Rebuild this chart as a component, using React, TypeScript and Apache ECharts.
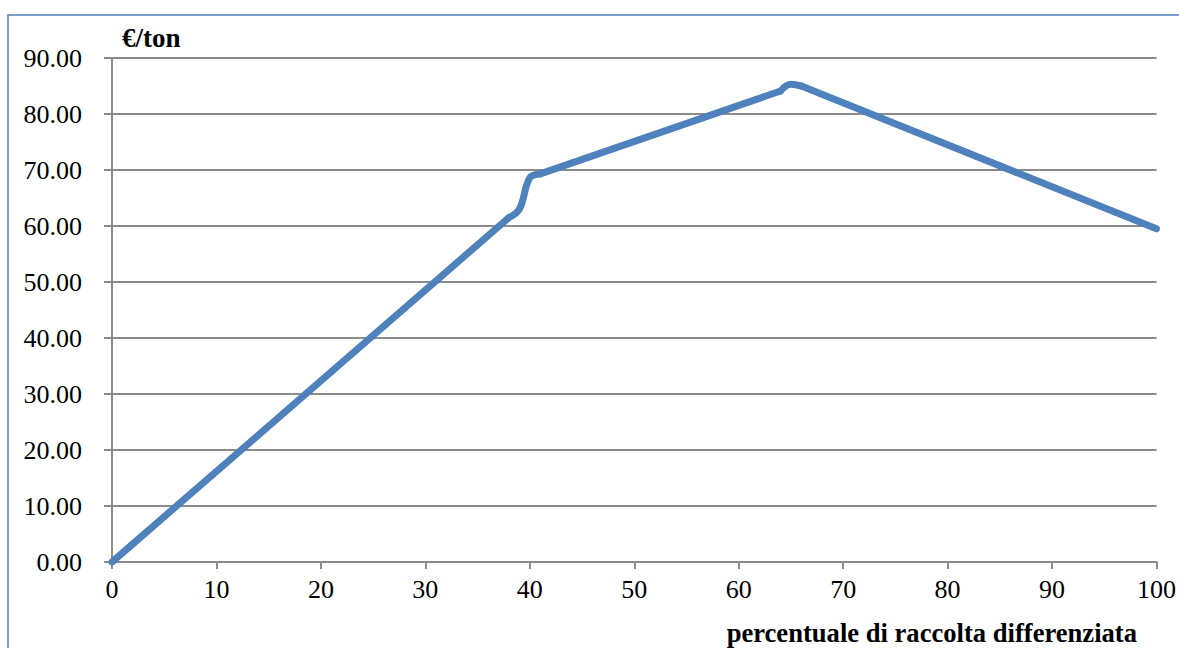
import React, { useEffect, useRef } from "react";
import * as echarts from "echarts";

const percentX = [0, 38, 39, 40, 41, 64, 65, 66, 100];
const costY = [0, 61.5, 63.0, 68.6, 69.3, 84.1, 85.3, 85.0, 59.5];
const yTitle = "€/ton";
const xTitle = "percentuale di raccolta differenziata";

// index ranges of the series drawn straight or smoothed
const segments: [number, number, boolean][] = [
  [0, 1, false],
  [1, 4, true],
  [4, 5, false],
  [5, 7, true],
  [7, 8, false],
];

const FONT = "Times New Roman";

export default function App() {
  const ref = useRef<HTMLDivElement>(null);
  useEffect(() => {
    if (!ref.current) return;
    const chart = echarts.init(ref.current, null, { renderer: "svg" });
    const pts = percentX.map((x, i) => [x, costY[i]]);
    chart.setOption({
      animation: false,
      backgroundColor: "#ffffff",
      textStyle: { fontFamily: FONT },
      grid: { left: 112, right: 22, top: 58, bottom: 86 },
      graphic: [
        {
          type: "rect",
          shape: { x: 8, y: 15, width: 1300, height: 800 },
          style: { fill: "none", stroke: "#4F81BD", lineWidth: 1.5 },
          silent: true,
        },
        {
          type: "text",
          left: 122,
          top: 24,
          style: { text: yTitle, fontFamily: FONT, fontWeight: "bold", fontSize: 27, fill: "#000" },
        },
        {
          type: "text",
          right: 42,
          top: 619,
          style: { text: xTitle, fontFamily: FONT, fontWeight: "bold", fontSize: 26.6, fill: "#000" },
        },
      ],
      xAxis: {
        type: "value",
        min: 0,
        max: 100,
        interval: 10,
        axisLine: { show: true, lineStyle: { color: "#8c8c8c", width: 2 } },
        axisTick: { show: true, length: 7, lineStyle: { color: "#8c8c8c", width: 2 } },
        splitLine: { show: false },
        axisLabel: { fontFamily: FONT, fontSize: 26, color: "#000", margin: 14 },
      },
      yAxis: {
        type: "value",
        min: 0,
        max: 90,
        interval: 10,
        axisLine: { show: true, lineStyle: { color: "#8c8c8c", width: 2 } },
        axisTick: { show: true, length: 8, lineStyle: { color: "#8c8c8c", width: 2 } },
        splitLine: { show: true, lineStyle: { color: "#8c8c8c", width: 2 } },
        axisLabel: {
          fontFamily: FONT,
          fontSize: 26,
          color: "#000",
          margin: 30,
          formatter: (v: number) => v.toFixed(2),
        },
      },
      series: segments.map(([a, b, sm]) => ({
        type: "line",
        data: pts.slice(a, b + 1),
        showSymbol: false,
        smooth: sm ? 0.4 : false,
        lineStyle: { color: "#4F81BD", width: 7, cap: "round", join: "round" },
      })),
    });
    return () => chart.dispose();
  }, []);
  return (
    <div
      ref={ref}
      style={{ position: "absolute", left: 0, top: 0, width: 1179, height: 648 }}
    />
  );
}
